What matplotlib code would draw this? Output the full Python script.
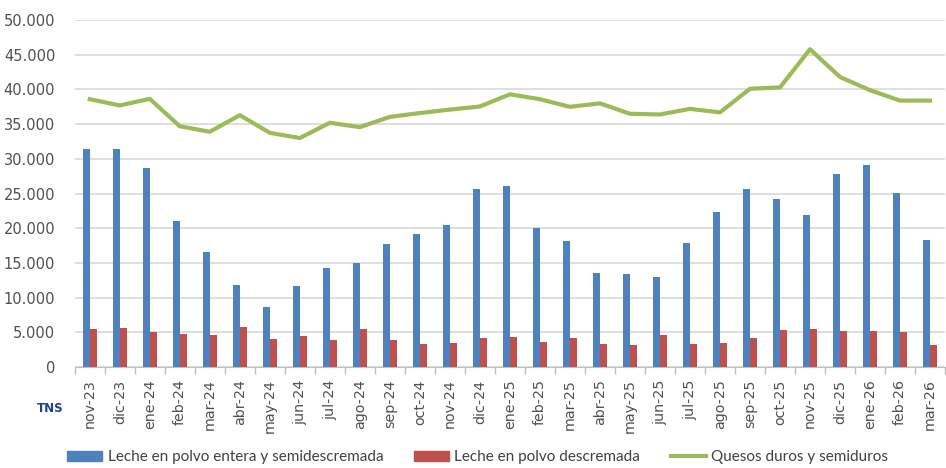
import numpy as np
import matplotlib
matplotlib.use("Agg")
import matplotlib.pyplot as plt
from matplotlib.lines import Line2D
from matplotlib.patches import Patch

months = ["nov-23", "dic-23", "ene-24", "feb-24", "mar-24", "abr-24", "may-24",
          "jun-24", "jul-24", "ago-24", "sep-24", "oct-24", "nov-24", "dic-24",
          "ene-25", "feb-25", "mar-25", "abr-25", "may-25", "jun-25", "jul-25",
          "ago-25", "sep-25", "oct-25", "nov-25", "dic-25", "ene-26", "feb-26",
          "mar-26"]

# toneladas
leche_entera = [31400, 31400, 28750, 21000, 16600, 11800, 8600, 11600, 14300,
                15050, 17700, 19100, 20500, 25700, 26150, 20100, 18200, 13500,
                13370, 12980, 17800, 22400, 25700, 24250, 21900, 27850, 29100,
                25050, 18300]
leche_descremada = [5400, 5650, 5050, 4800, 4650, 5770, 4050, 4520, 3900, 5500,
                    3900, 3270, 3500, 4130, 4380, 3650, 4130, 3370, 3120, 4660,
                    3370, 3500, 4230, 5380, 5530, 5140, 5140, 5000, 3120]
quesos = [38600, 37700, 38650, 34700, 33900, 36300, 33750, 33000, 35200, 34570,
          36050, 36600, 37100, 37550, 39300, 38600, 37500, 38000, 36500, 36400,
          37200, 36700, 40100, 40300, 45800, 41800, 39900, 38400, 38400]

BLUE = "#4F81BD"
RED = "#C0504D"
GREEN = "#9BBB59"
TXT = "#505050"

fig = plt.figure(figsize=(9.46, 4.68), dpi=100)
ax = fig.add_axes([0.079, 0.216, 0.92, 0.741])

x = np.arange(len(months))
w = 0.233
ax.bar(x - w / 2, leche_entera, width=w, color=BLUE, zorder=3)
ax.bar(x + w / 2, leche_descremada, width=w, color=RED, zorder=3)
ax.plot(x, quesos, color=GREEN, linewidth=3, zorder=4)

ax.set_xlim(-0.5, len(months) - 0.5)
ax.set_ylim(0, 50000)
ax.set_yticks(np.arange(0, 50001, 5000))
ax.set_yticklabels(["0" if v == 0 else f"{v // 1000}.000" for v in range(0, 50001, 5000)])
ax.grid(axis="y", color="#D9D9D9", linewidth=1.2, zorder=0)

ax.set_xticks(x)
ax.set_xticklabels(months, rotation=90)
ax.set_xticks(np.arange(-0.5, len(months), 1), minor=True)
ax.tick_params(axis="x", which="major", length=0, pad=9, labelsize=10.3, labelcolor=TXT)
ax.tick_params(axis="x", which="minor", length=5, color="#BFBFBF", width=1)
ax.tick_params(axis="y", length=0, pad=14, labelsize=10.5, labelcolor=TXT)

for s in ["top", "right", "left"]:
    ax.spines[s].set_visible(False)
ax.spines["bottom"].set_color("#BFBFBF")

fig.text(0.053, 0.128, "TNS", color="#1F3FA0", fontsize=8.5, fontweight="bold",
         ha="center", va="center")

handles = [
    Patch(color=BLUE, label="Leche en polvo entera y semidescremada"),
    Patch(color=RED, label="Leche en polvo descremada"),
    Line2D([0], [0], color=GREEN, linewidth=3, label="Quesos duros y semiduros"),
]
fig.legend(handles=handles, loc="center", bbox_to_anchor=(0.505, 0.023), ncol=3,
           frameon=False, handlelength=2.3, handleheight=0.6, columnspacing=2.0,
           handletextpad=0.35, prop={"family": ["Lato", "DejaVu Sans"], "size": 11},
           labelcolor="#404040")

fig.savefig("out.png", dpi=100)
